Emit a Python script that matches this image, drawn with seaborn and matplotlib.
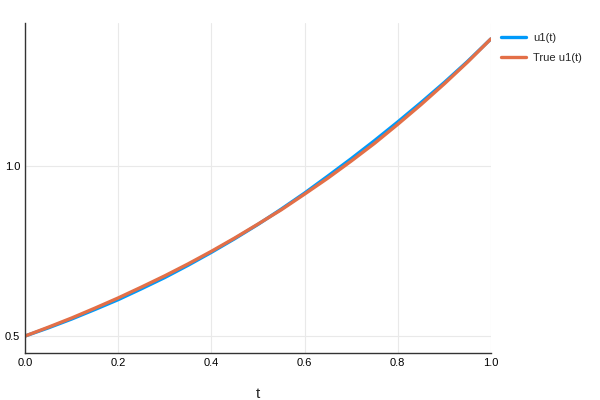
import numpy as np
import pandas as pd
import matplotlib
matplotlib.use("Agg")
import matplotlib.pyplot as plt
import seaborn as sns

# values
t = [0.0, 0.05, 0.1, 0.15, 0.2, 0.25, 0.3, 0.35, 0.4, 0.45, 0.5,
     0.55, 0.6, 0.65, 0.7, 0.75, 0.8, 0.85, 0.9, 0.95, 1.0]
u1 = [0.500, 0.524, 0.550, 0.578, 0.607, 0.639, 0.672, 0.708, 0.746, 0.786, 0.828,
      0.873, 0.920, 0.970, 1.021, 1.074, 1.129, 1.186, 1.245, 1.307, 1.373]
u1_true = [0.500, 0.526, 0.553, 0.582, 0.612, 0.644, 0.677, 0.712, 0.749, 0.788, 0.829,
           0.871, 0.917, 0.964, 1.014, 1.066, 1.122, 1.180, 1.241, 1.305, 1.373]
series = ["u1(t)", "True u1(t)"]
renkler = ["#009AFA", "#E36F47"]

df = pd.DataFrame({
    "t": t * 2,
    "u": u1 + u1_true,
    "seri": [series[0]] * len(t) + [series[1]] * len(t),
})

sns.set_style("white")
plt.rcParams["font.family"] = ["Liberation Sans", "DejaVu Sans"]

fig = plt.figure(figsize=(6, 4), dpi=100)
ax = fig.add_axes([0.042, 0.1175, 0.776, 0.825])
ax.grid(True, color="#e9e9e9", linewidth=0.8)
ax.set_axisbelow(True)
sns.lineplot(data=df, x="t", y="u", hue="seri", palette=renkler,
             linewidth=2.4, ax=ax, sort=False)

ax.set_xlim(0, 1)
ax.set_ylim(0.45, 1.42)
ax.set_xticks([0.0, 0.2, 0.4, 0.6, 0.8, 1.0])
ax.set_yticks([0.5, 1.0])
ax.set_xlabel("t", fontsize=11, labelpad=14)
ax.set_ylabel("")
ax.tick_params(direction="in", length=3, width=0.8, labelsize=8, colors="#000000")
for s in ["top", "right"]:
    ax.spines[s].set_visible(False)
for s in ["left", "bottom"]:
    ax.spines[s].set_color("#333333")
    ax.spines[s].set_linewidth(1.0)

ax.legend(loc="upper left", bbox_to_anchor=(1.0, 1.0), frameon=False,
          fontsize=8, handlelength=2.3, handletextpad=0.6, labelspacing=0.9)

fig.savefig("out.png", dpi=100)
